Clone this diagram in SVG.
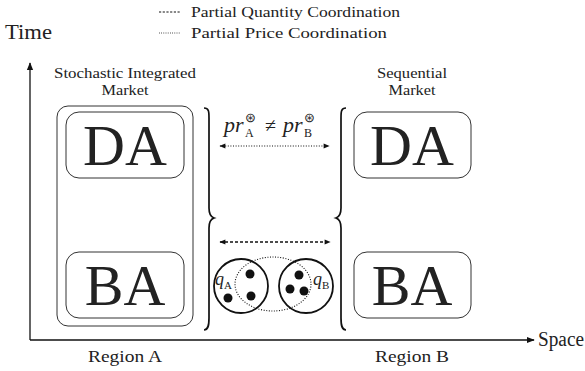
<svg xmlns="http://www.w3.org/2000/svg" width="585" height="371" viewBox="0 0 585 371" font-family="'Liberation Serif', 'Times New Roman', serif">
<style>
text{font-family:"Liberation Serif","Times New Roman",serif;fill:#222}
.box{fill:none;stroke:#333;stroke-width:1}
.big{font-size:58px;text-anchor:middle}
.lbl{font-size:15px;text-anchor:middle}
.leg{font-size:15.5px}
.ax{stroke:#111;stroke-width:1.3;fill:none}
.brace{stroke:#111;stroke-width:1.7;fill:none}
.dash{stroke:#111;stroke-width:1.3;stroke-dasharray:3 2;fill:none}
.dot{stroke:#111;stroke-width:1.1;stroke-dasharray:1 1.6;fill:none}
.circ{stroke:#111;stroke-width:1.8;fill:none}
.ball{fill:#111}
.it{font-style:italic}
.sm{font-size:12px}
</style>
<defs>
<marker id="ah" viewBox="0 0 10 10" refX="9" refY="5" markerWidth="8" markerHeight="8" markerUnits="userSpaceOnUse" orient="auto-start-reverse">
<path d="M0,1 L10,5 L0,9 z" fill="#111"/>
</marker>
<marker id="sh" viewBox="0 0 10 10" refX="9" refY="5" markerWidth="7" markerHeight="6" markerUnits="userSpaceOnUse" orient="auto-start-reverse">
<path d="M0,1 L10,5 L0,9 z" fill="#111"/>
</marker>
</defs>
<g id="legend">
<line class="dash" x1="159" y1="12" x2="181" y2="12" style="stroke-width:1;stroke-dasharray:2.2 1.5"/>
<text class="leg" x="191" y="17" textLength="209" lengthAdjust="spacingAndGlyphs">Partial Quantity Coordination</text>
<line class="dot" x1="159" y1="33" x2="181" y2="33" style="stroke-width:0.9;stroke-dasharray:0.8 1.4"/>
<text class="leg" x="191" y="38" textLength="196" lengthAdjust="spacingAndGlyphs">Partial Price Coordination</text>
</g>
<g id="axes">
<line class="ax" x1="30" y1="340" x2="30" y2="63" marker-end="url(#ah)"/>
<line class="ax" x1="30" y1="340" x2="534" y2="340" marker-end="url(#ah)"/>
<text x="5" y="39" style="font-size:20px" textLength="47" lengthAdjust="spacingAndGlyphs">Time</text>
<text x="538" y="346" style="font-size:20px" textLength="46" lengthAdjust="spacingAndGlyphs">Space</text>
<text class="lbl" x="125" y="362" style="font-size:17px" textLength="74" lengthAdjust="spacingAndGlyphs">Region A</text>
<text class="lbl" x="412" y="362" style="font-size:17px" textLength="74" lengthAdjust="spacingAndGlyphs">Region B</text>
</g>
<g id="integrated">
<text class="lbl" x="125" y="78" textLength="142" lengthAdjust="spacingAndGlyphs">Stochastic Integrated</text>
<text class="lbl" x="125" y="95" textLength="47" lengthAdjust="spacingAndGlyphs">Market</text>
<rect class="box" x="57" y="106" width="136" height="220" rx="11"/>
</g>
<g id="da-a">
<rect class="box" x="66" y="112" width="118" height="66" rx="13"/>
<text class="big" x="125" y="165">DA</text>
</g>
<g id="ba-a">
<rect class="box" x="66" y="252" width="118" height="66" rx="13"/>
<text class="big" x="125" y="305">BA</text>
</g>
<g id="sequential">
<text class="lbl" x="412" y="78" textLength="70" lengthAdjust="spacingAndGlyphs">Sequential</text>
<text class="lbl" x="412" y="95" textLength="47" lengthAdjust="spacingAndGlyphs">Market</text>
</g>
<g id="da-b">
<rect class="box" x="354" y="112" width="117" height="66" rx="13"/>
<text class="big" x="412" y="165">DA</text>
</g>
<g id="ba-b">
<rect class="box" x="354" y="252" width="117" height="66" rx="13"/>
<text class="big" x="412" y="305">BA</text>
</g>
<g id="braces">
<path class="brace" d="M204,108 C209,108 209,112 209,118 L209,208 C209,214 211,217 214,218 C211,219 209,222 209,228 L209,318 C209,326 208,330 204,330"/>
<path class="brace" d="M346,108 C341,108 341,112 341,118 L341,208 C341,214 339,217 336,218 C339,219 341,222 341,228 L341,318 C341,326 342,330 346,330"/>
</g>
<g id="price">
<text class="it" x="224" y="132" style="font-size:22px">pr</text>
<text x="245" y="122" style="font-size:13px">⊛</text>
<text class="sm" x="245" y="137">A</text>
<text x="265" y="132" style="font-size:20px">≠</text>
<text class="it" x="283" y="132" style="font-size:22px">pr</text>
<text x="304" y="122" style="font-size:13px">⊛</text>
<text class="sm" x="304" y="137">B</text>
</g>
<g id="quantity">
<ellipse class="dot" cx="273" cy="284" rx="38" ry="27"/>
<circle class="circ" cx="241" cy="286" r="27"/>
<circle class="circ" cx="306" cy="286" r="27"/>
<circle class="ball" cx="250" cy="274" r="4.5"/>
<circle class="ball" cx="251" cy="296" r="4.5"/>
<circle class="ball" cx="228" cy="298" r="4.5"/>
<circle class="ball" cx="299" cy="275" r="4.5"/>
<circle class="ball" cx="290" cy="289" r="4.5"/>
<circle class="ball" cx="304" cy="291" r="4.5"/>
<text class="it" x="215" y="285" style="font-size:18px">q</text>
<text class="sm" x="224" y="289" style="font-size:11px">A</text>
<text class="it" x="313" y="285" style="font-size:18px">q</text>
<text class="sm" x="322" y="289" style="font-size:11px">B</text>
</g>
<g id="connectors">
<line class="dot" x1="220" y1="146" x2="329" y2="146" marker-start="url(#sh)" marker-end="url(#sh)"/>
<line class="dash" x1="220" y1="242" x2="330" y2="242" marker-start="url(#sh)" marker-end="url(#sh)"/>
</g>
</svg>
